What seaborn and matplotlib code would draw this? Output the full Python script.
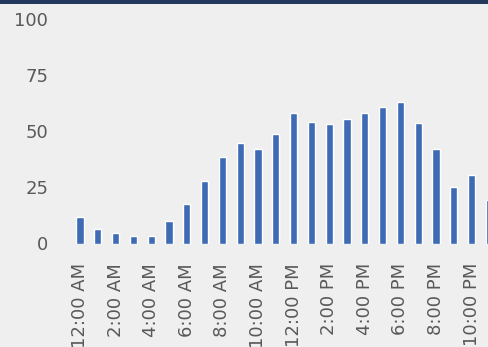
import matplotlib
matplotlib.use("Agg")
import matplotlib.pyplot as plt
from matplotlib.patches import Rectangle
import seaborn as sns
import pandas as pd

hours = ["12:00 AM", "1:00 AM", "2:00 AM", "3:00 AM", "4:00 AM", "5:00 AM",
         "6:00 AM", "7:00 AM", "8:00 AM", "9:00 AM", "10:00 AM", "11:00 AM",
         "12:00 PM", "1:00 PM", "2:00 PM", "3:00 PM", "4:00 PM", "5:00 PM",
         "6:00 PM", "7:00 PM", "8:00 PM", "9:00 PM", "10:00 PM", "11:00 PM"]
values = [12.0, 6.3, 4.5, 3.5, 3.5, 10.2, 17.6, 28.0, 38.5, 45.0, 42.2, 48.7,
          58.1, 54.4, 53.3, 55.6, 58.1, 61.1, 63.0, 53.7, 42.2, 25.4, 30.6, 19.4]
y_ticks = [0, 25, 50, 75, 100]

df = pd.DataFrame({"hour": hours, "value": values})

sns.set_theme(style="white")
plt.rcParams["font.family"] = ["DejaVu Sans"]

bg = "#efefef"
W, H = 488, 347
fig = plt.figure(figsize=(W / 100, H / 100), dpi=100, facecolor=bg)

left = 65 / W
bottom = (H - 243.5) / H
top = (H - 19.5) / H
ax = fig.add_axes([left, bottom, 1 - left, top - bottom], facecolor=bg)

sns.barplot(data=df, x="hour", y="value", order=hours, color="#3e6bb4",
            width=0.4, saturation=1, ax=ax)

ax.set_xlim(-0.84, 22.92)
ax.set_ylim(0, 100)
ax.set_yticks(y_ticks)
ax.set_yticklabels([str(t) for t in y_ticks])
ax.set_xticks(range(0, 24, 2))
ax.set_xticklabels(hours[::2], rotation=90, va="top", ha="center")
ax.tick_params(axis="both", length=0, colors="#595959", labelsize=13)
ax.tick_params(axis="y", pad=12)
ax.tick_params(axis="x", pad=14)
ax.set_xlabel("")
ax.set_ylabel("")
ax.grid(False)
for s in ax.spines.values():
    s.set_visible(False)

# dark frame edge along the top
fig.add_artist(Rectangle((0, 1 - 4 / H), 1, 4 / H, transform=fig.transFigure,
                         facecolor="#22385a", edgecolor="none", clip_on=False))

fig.savefig("out.png", dpi=100, facecolor=bg)
